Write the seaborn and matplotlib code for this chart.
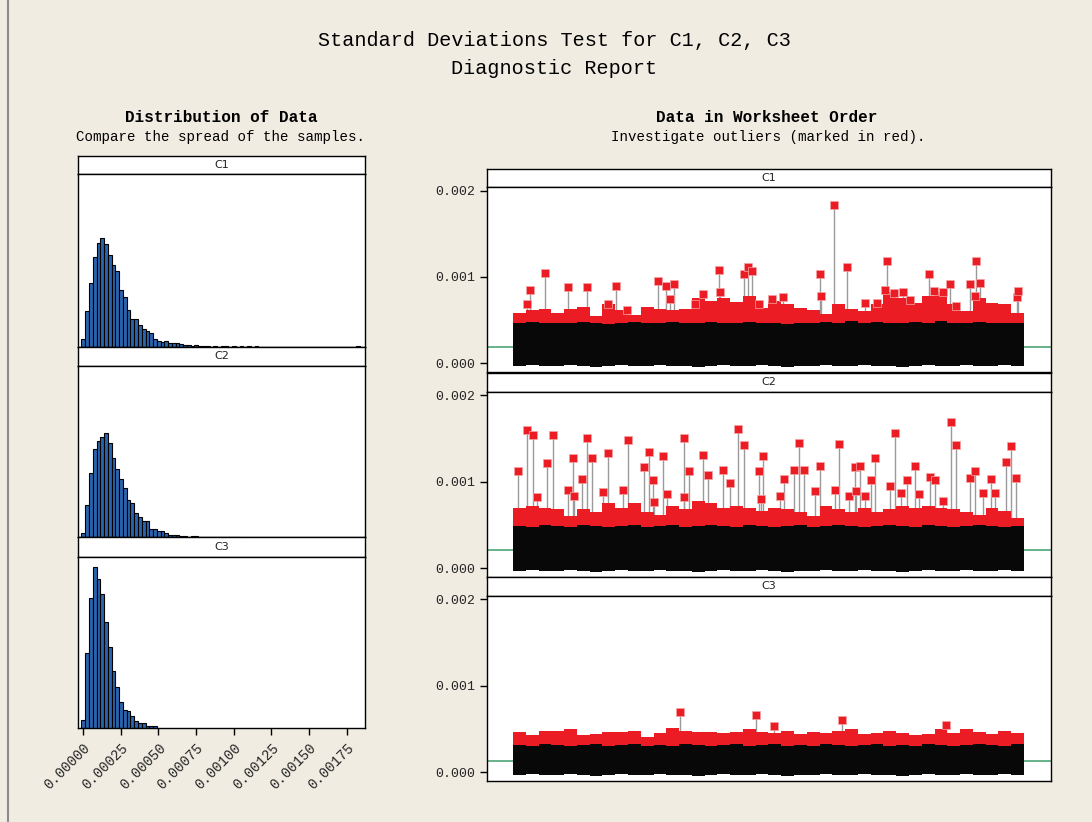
import numpy as np
import pandas as pd
import matplotlib
matplotlib.use("Agg")
import matplotlib.pyplot as plt
import seaborn as sns
from matplotlib.lines import Line2D

# ---------------- data ----------------
SAMPLES = ["C1", "C2", "C3"]
N_OBS = 5000
HIST_START = -0.00001
HIST_BIN = 0.000025

hist_c1 = [34, 166, 299, 420, 486, 512, 481, 429, 384, 356, 268, 234, 174, 130, 130,
           102, 81, 74, 63, 36, 27, 22, 27, 19, 17, 16, 14, 9, 7, 5, 6, 4, 3, 4,
           0, 2, 0, 1, 2, 0, 1, 0, 1, 0, 1, 0, 1, 0, 0, 0, 0, 0, 0, 0, 0, 0, 0, 0,
           0, 0, 0, 0, 0, 0, 0, 0, 0, 0, 0, 0, 0, 0, 0, 1]
hist_c2 = [22, 155, 306, 418, 454, 475, 494, 447, 376, 323, 274, 235, 177, 160, 113,
           97, 75, 75, 39, 39, 28, 28, 19, 9, 9, 9, 8, 5, 3, 4, 4, 2, 0, 0, 3, 3,
           0, 0, 0, 0, 3, 0]
hist_c3 = [39, 356, 614, 760, 706, 633, 501, 384, 269, 196, 125, 86, 81, 56, 33, 24,
           24, 11, 11, 11]

means = [0.00019, 0.00021, 0.00013]

# envelope of the plotted points, 40 blocks of 125 observations
black_top_c1 = [0.00047, 0.00048, 0.00046, 0.00047, 0.00046, 0.00048, 0.00047, 0.00045,
                0.00047, 0.00048, 0.00046, 0.00047, 0.00048, 0.00047, 0.00046, 0.00048,
                0.00047, 0.00046, 0.00048, 0.00047, 0.00046, 0.00045, 0.00047, 0.00046,
                0.00048, 0.00047, 0.00049, 0.00046, 0.00048, 0.00047, 0.00046, 0.00048,
                0.00047, 0.00049, 0.00046, 0.00047, 0.00048, 0.00046, 0.00047, 0.00046]
black_top_c2 = [0.00049, 0.00048, 0.00050, 0.00049, 0.00048, 0.00050, 0.00049, 0.00048,
                0.00049, 0.00050, 0.00048, 0.00049, 0.00050, 0.00048, 0.00049, 0.00050,
                0.00049, 0.00048, 0.00050, 0.00049, 0.00048, 0.00049, 0.00050, 0.00048,
                0.00049, 0.00050, 0.00049, 0.00048, 0.00049, 0.00050, 0.00049, 0.00048,
                0.00050, 0.00049, 0.00048, 0.00049, 0.00050, 0.00049, 0.00048, 0.00049]
black_top_c3 = [0.00031, 0.00030, 0.00032, 0.00031, 0.00030, 0.00031, 0.00033, 0.00030,
                0.00031, 0.00032, 0.00030, 0.00031, 0.00030, 0.00032, 0.00031, 0.00030,
                0.00031, 0.00032, 0.00030, 0.00031, 0.00032, 0.00030, 0.00031, 0.00030,
                0.00032, 0.00031, 0.00030, 0.00031, 0.00032, 0.00030, 0.00031, 0.00030,
                0.00032, 0.00031, 0.00030, 0.00031, 0.00032, 0.00031, 0.00030, 0.00032]
black_bottom = [-0.00003, -0.00002, -0.00003, -0.00003, -0.00002, -0.00003, -0.00004, -0.00003,
                -0.00002, -0.00003, -0.00003, -0.00002, -0.00003, -0.00003, -0.00004, -0.00003,
                -0.00002, -0.00003, -0.00003, -0.00002, -0.00003, -0.00004, -0.00003, -0.00003,
                -0.00002, -0.00003, -0.00003, -0.00002, -0.00003, -0.00003, -0.00004, -0.00003,
                -0.00002, -0.00003, -0.00003, -0.00002, -0.00003, -0.00003, -0.00002, -0.00003]
red_top_c1 = [0.00058, 0.00062, 0.00063, 0.00058, 0.00063, 0.00065, 0.00055, 0.00068,
              0.00062, 0.00056, 0.00065, 0.00063, 0.00062, 0.00063, 0.00075, 0.00072,
              0.00075, 0.00071, 0.00078, 0.00064, 0.00072, 0.00069, 0.00064, 0.00062,
              0.00057, 0.00068, 0.00063, 0.00060, 0.00068, 0.00082, 0.00075, 0.00070,
              0.00078, 0.00082, 0.00068, 0.00060, 0.00075, 0.00070, 0.00068, 0.00058]
red_top_c2 = [0.00070, 0.00072, 0.00070, 0.00068, 0.00060, 0.00068, 0.00065, 0.00075,
              0.00070, 0.00075, 0.00065, 0.00062, 0.00072, 0.00068, 0.00078, 0.00075,
              0.00070, 0.00072, 0.00070, 0.00066, 0.00070, 0.00068, 0.00065, 0.00060,
              0.00072, 0.00068, 0.00065, 0.00070, 0.00065, 0.00068, 0.00072, 0.00070,
              0.00072, 0.00070, 0.00068, 0.00065, 0.00062, 0.00070, 0.00066, 0.00058]
red_top_c3 = [0.00047, 0.00043, 0.00048, 0.00048, 0.00050, 0.00043, 0.00044, 0.00046,
              0.00047, 0.00048, 0.00041, 0.00045, 0.00051, 0.00048, 0.00047, 0.00047,
              0.00045, 0.00046, 0.00050, 0.00046, 0.00045, 0.00048, 0.00044, 0.00047,
              0.00045, 0.00048, 0.00050, 0.00044, 0.00045, 0.00048, 0.00045, 0.00043,
              0.00044, 0.00050, 0.00045, 0.00050, 0.00046, 0.00044, 0.00048, 0.00045]

out_idx_c1 = [140, 166, 310, 538, 727, 933, 1005, 1112, 1419, 1494, 1536, 1575, 1781,
              1862, 2019, 2025, 2260, 2296, 2335, 2404, 2531, 2645, 3004, 3010, 3144,
              3265, 3444, 3559, 3643, 3660, 3728, 3813, 3885, 4067, 4119, 4210, 4279,
              4331, 4472, 4520, 4533, 4569, 4928, 4941]
out_val_c1 = [0.00068, 0.00085, 0.00104, 0.00088, 0.00088, 0.00068, 0.00089, 0.00062,
              0.00095, 0.00090, 0.00074, 0.00092, 0.00068, 0.00080, 0.00108, 0.00083,
              0.00103, 0.00112, 0.00107, 0.00068, 0.00074, 0.00077, 0.00103, 0.00078,
              0.00183, 0.00112, 0.00070, 0.00070, 0.00085, 0.00119, 0.00081, 0.00082,
              0.00073, 0.00103, 0.00084, 0.00083, 0.00092, 0.00066, 0.00092, 0.00078,
              0.00119, 0.00093, 0.00077, 0.00084]
out_idx_c2 = [46, 140, 193, 235, 330, 391, 538, 584, 600, 678, 727, 773, 884, 933, 1073,
              1122, 1282, 1327, 1373, 1382, 1471, 1510, 1673, 1678, 1719, 1862, 1908, 2052,
              2123, 2205, 2260, 2404, 2425, 2449, 2610, 2655, 2753, 2798, 2847, 2958, 3004,
              3148, 3193, 3291, 3350, 3355, 3395, 3444, 3506, 3542, 3689, 3735, 3793, 3852,
              3937, 3976, 4080, 4129, 4210, 4283, 4331, 4475, 4521, 4600, 4677, 4720, 4824,
              4873, 4919]
out_val_c2 = [0.00112, 0.00160, 0.00154, 0.00082, 0.00122, 0.00154, 0.00090, 0.00127,
              0.00083, 0.00103, 0.00151, 0.00128, 0.00088, 0.00133, 0.00090, 0.00148,
              0.00117, 0.00135, 0.00102, 0.00076, 0.00130, 0.00086, 0.00151, 0.00082,
              0.00113, 0.00131, 0.00108, 0.00114, 0.00099, 0.00161, 0.00143, 0.00112,
              0.00080, 0.00130, 0.00084, 0.00103, 0.00114, 0.00145, 0.00114, 0.00089,
              0.00118, 0.00091, 0.00144, 0.00084, 0.00117, 0.00089, 0.00118, 0.00083,
              0.00102, 0.00127, 0.00095, 0.00156, 0.00087, 0.00102, 0.00118, 0.00086,
              0.00106, 0.00102, 0.00078, 0.00169, 0.00143, 0.00104, 0.00113, 0.00087,
              0.00103, 0.00087, 0.00123, 0.00141, 0.00104]
out_idx_c3 = [1637, 2381, 2557, 3219, 4234]
out_val_c3 = [0.00070, 0.00066, 0.00053, 0.00060, 0.00054]

x_ticks_left = [0.0, 0.00025, 0.0005, 0.00075, 0.001, 0.00125, 0.0015, 0.00175]
x_ticklabels_left = ["0.00000", "0.00025", "0.00050", "0.00075", "0.00100",
                     "0.00125", "0.00150", "0.00175"]
y_ticks_right = [0.0, 0.001, 0.002]
y_ticklabels_right = ["0.000", "0.001", "0.002"]

# ---------------- style ----------------
sns.set_theme(style="white")
plt.rcParams["font.family"] = ["Liberation Mono", "DejaVu Sans"]

BG = "#f0ece2"
BLUE = "#2a64ae"
RED = "#ec1c24"
BLACK = "#080808"
GREEN = "#3d9c6b"
STEM = "#9a9a9a"

W, H = 1092, 822
fig = plt.figure(figsize=(W / 100, H / 100), dpi=100, facecolor=BG)


def box(x0, x1, y0, y1):
    return fig.add_axes([x0 / W, 1 - y1 / H, (x1 - x0) / W, (y1 - y0) / H])


def frame(ax):
    for s in ax.spines.values():
        s.set_visible(True)
        s.set_color("black")
        s.set_linewidth(1.0)


def strip(x0, x1, y0, y1, label):
    ax = box(x0, x1, y0, y1)
    ax.set_facecolor("white")
    ax.set_xticks([])
    ax.set_yticks([])
    frame(ax)
    ax.text(0.5, 0.5, label, ha="center", va="center", fontsize=8,
            family=["DejaVu Sans"], color="#222222", transform=ax.transAxes)
    return ax


fig.add_artist(Line2D([8 / W, 8 / W], [0, 1], color="#8a8a8a", lw=1.5))

fig.text(554 / W, 1 - 40 / H, "Standard Deviations Test for C1, C2, C3",
         ha="center", va="center", fontsize=14.5, color="black")
fig.text(554 / W, 1 - 68 / H, "Diagnostic Report",
         ha="center", va="center", fontsize=14.5, color="black")
fig.text(221 / W, 1 - 117 / H, "Distribution of Data", ha="center", va="center",
         fontsize=11.5, fontweight="bold", color="black")
fig.text(220 / W, 1 - 137 / H, "Compare the spread of the samples.",
         ha="center", va="center", fontsize=10.2, color="black")
fig.text(767 / W, 1 - 117 / H, "Data in Worksheet Order", ha="center", va="center",
         fontsize=11.5, fontweight="bold", color="black")
fig.text(768 / W, 1 - 137 / H, "Investigate outliers (marked in red).",
         ha="center", va="center", fontsize=10.2, color="black")

# ---------------- left: histograms ----------------
left_rows = [(155.7, 174, 346.7), (346.7, 366, 537.3), (537.3, 556.7, 728.3)]
hists = [hist_c1, hist_c2, hist_c3]
for i, (name, counts, (s0, s1, p1)) in enumerate(zip(SAMPLES, hists, left_rows)):
    strip(78.3, 364.7, s0, s1, name)
    ax = box(78.3, 364.7, s1, p1)
    ax.set_facecolor("white")
    n = len(counts)
    lo = HIST_START
    hi = HIST_START + HIST_BIN * n
    centers = lo + HIST_BIN * (np.arange(n) + 0.5)
    df = pd.DataFrame({"value": centers, "count": np.asarray(counts, dtype=float)})
    sns.histplot(data=df, x="value", weights="count", binwidth=HIST_BIN,
                 binrange=(lo, hi), ax=ax, color=BLUE, edgecolor="black",
                 linewidth=0.8, alpha=1.0)
    ax.set_xlim(-0.0000312, 0.00187)
    ax.set_ylim(0, 810)
    ax.set_xlabel("")
    ax.set_ylabel("")
    ax.set_yticks([])
    frame(ax)
    if i == 2:
        ax.set_xticks(x_ticks_left)
        ax.set_xticklabels(x_ticklabels_left, rotation=45, ha="right", va="top",
                           rotation_mode="anchor", fontsize=10)
        ax.tick_params(axis="x", bottom=True, direction="out", length=5, width=1,
                       color="black", pad=4)
    else:
        ax.set_xticks([])

# ---------------- right: worksheet order ----------------
right_rows = [(169, 187.3, 371.7), (372.7, 392, 576.7), (576.7, 596, 780.7)]
black_tops = [black_top_c1, black_top_c2, black_top_c3]
red_tops = [red_top_c1, red_top_c2, red_top_c3]
outs = [(out_idx_c1, out_val_c1), (out_idx_c2, out_val_c2), (out_idx_c3, out_val_c3)]
seg_x = np.linspace(0, N_OBS, len(black_top_c1) + 1)

for i, (name, (s0, s1, p1)) in enumerate(zip(SAMPLES, right_rows)):
    strip(486.7, 1051, s0, s1, name)
    ax = box(486.7, 1051, s1, p1)
    ax.set_facecolor("white")
    m = means[i]
    ax.axhline(m, color=GREEN, lw=1.1, zorder=1)
    oi, ov = outs[i]
    ax.vlines(oi, m, ov, color=STEM, lw=1.0, zorder=2)
    rt = list(red_tops[i]) + [red_tops[i][-1]]
    bt = list(black_tops[i]) + [black_tops[i][-1]]
    bb = list(black_bottom) + [black_bottom[-1]]
    ax.fill_between(seg_x, m, rt, step="post", color=RED, lw=0, zorder=3)
    ax.fill_between(seg_x, bb, bt, step="post", color=BLACK, lw=0, zorder=4)
    sns.scatterplot(x=oi, y=ov, marker="s", s=32, color=RED, edgecolor="#f6a5a5",
                    linewidth=0.5, ax=ax, zorder=5, legend=False)
    ax.set_xlim(-257, 5264)
    ax.set_ylim(-0.0001, 0.00204)
    ax.set_xticks([])
    ax.set_yticks(y_ticks_right)
    ax.set_yticklabels(y_ticklabels_right, fontsize=9.5)
    ax.tick_params(axis="y", left=True, direction="out", length=5, width=1,
                   color="black", pad=3)
    ax.set_xlabel("")
    ax.set_ylabel("")
    frame(ax)

fig.savefig("out.png", dpi=100, facecolor=BG)
